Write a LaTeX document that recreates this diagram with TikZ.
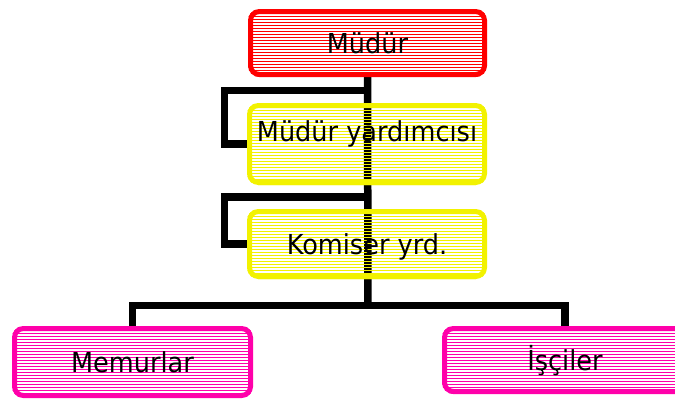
\documentclass[tikz,border=0pt]{standalone}
\usepackage{fontspec}
\setmainfont{DejaVu Sans}
\usetikzlibrary{backgrounds}
\definecolor{boxred}{RGB}{255,0,0}
\definecolor{boxyellow}{RGB}{242,242,0}
\definecolor{boxpink}{RGB}{255,0,170}
\newcommand{\boxtext}[1]{\scalebox{0.93}[1]{#1}}
\newcommand{\stripebox}[2]{%
  \begin{scope}
    \clip[rounded corners=11pt] (#1.north west) rectangle (#1.south east);
    \foreach \k in {0,...,30}
      \draw[stripeline=#2] ([yshift=-\k*3pt-1pt]#1.north west) -- ([yshift=-\k*3pt-1pt]#1.north east);
  \end{scope}}
\tikzset{
  orgbox/.style={draw=#1, line width=5pt, rounded corners=9pt, inner sep=0pt,
    font=\fontsize{27.5}{32}\selectfont, text height=20pt, text depth=0pt},
  stripeline/.style={draw=#1, line width=0.9pt},
  conn/.style={draw=black, line width=7.5pt, line join=miter}
}
\begin{document}
\begin{tikzpicture}[x=1pt,y=-1pt]
\useasboundingbox (0,0) rectangle (675,399);
\clip (0,0) rectangle (675,399);
% junction coordinates
\coordinate (j1) at (368,90.5);
\coordinate (l1) at (224.5,90.5);
\coordinate (j2) at (368,197);
\coordinate (l2) at (224.5,197);
\coordinate (j3) at (368,305.5);
% boxes
\node[orgbox=boxred, minimum width=234pt, minimum height=63pt] (mudur) at (367.5,43) {\boxtext{Müdür}};
\node[orgbox=boxyellow, minimum width=235pt, minimum height=77pt, text depth=26pt] (myard) at (367,144) {\boxtext{Müdür yardımcısı}};
\node[orgbox=boxyellow, minimum width=235pt, minimum height=65pt] (komiser) at (367,244) {\boxtext{Komiser yrd.}};
\node[orgbox=boxpink, minimum width=236pt, minimum height=67pt] (memur) at (132.5,362) {\boxtext{Memurlar}};
\node[orgbox=boxpink, minimum width=241pt, minimum height=63pt] (isci) at (565,360) {\boxtext{İşçiler}};
% connectors and striped fills, behind the box borders and texts
\begin{scope}[on background layer]
\draw[conn] (mudur.south) -- (j3);
\draw[conn] (j1) -- (l1) |- (myard.west);
\draw[conn] (j2) -- (l2) |- (komiser.west);
\draw[conn] (memur.north) |- (j3) -| (isci.north);
\stripebox{mudur}{boxred}
\stripebox{myard}{boxyellow}
\stripebox{komiser}{boxyellow}
\stripebox{memur}{boxpink}
\stripebox{isci}{boxpink}
\end{scope}
\end{tikzpicture}
\end{document}
